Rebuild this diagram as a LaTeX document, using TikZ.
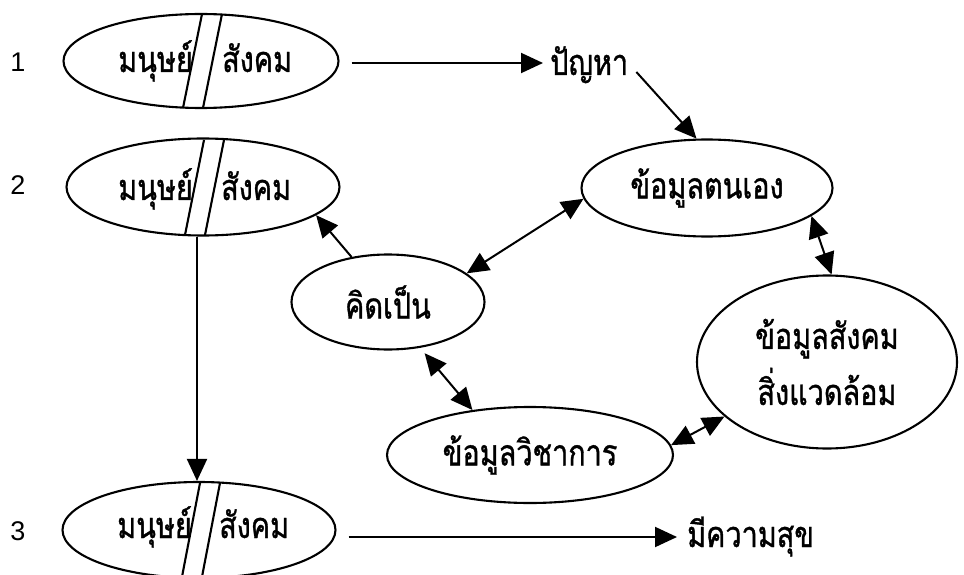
\documentclass[tikz,border=0pt]{standalone}
\usepackage{fontspec}
\setmainfont{Liberation Sans}
\newfontfamily\thai[Script=Thai,FakeStretch=0.8,FakeBold=1]{Loma}
\usetikzlibrary{shapes.geometric,arrows.meta,calc}
\begin{document}
\begin{tikzpicture}[x=1pt,y=-1pt,
  ell/.style={draw,ellipse,line width=2.1pt,inner sep=0pt},
  th/.style={font=\thai\fontsize{36}{56}\selectfont,inner sep=0pt},
  num/.style={font=\fontsize{27}{30}\selectfont,inner sep=0pt},
  arr/.style={line width=2pt,-{Triangle[length=22pt,width=20pt]}},
  barr/.style={line width=2pt,{Triangle[length=22pt,width=20pt]}-{Triangle[length=22pt,width=20pt]}},
  sl/.style={line width=2.1pt}]
\useasboundingbox[fill=white] (0,0) rectangle (964,575);
% row labels
\node[num] (n1) at (18,62) {1};
\node[num] (n2) at (18,185) {2};
\node[num] (n3) at (18,531) {3};
% man/society ellipses
\node[ell,minimum width=275pt,minimum height=94pt] (e1) at (201,61) {};
\node[ell,minimum width=273pt,minimum height=97pt] (e2) at (203,187) {};
\node[ell,minimum width=273pt,minimum height=96pt] (e3) at (199,530) {};
\foreach \e/\b in {e1/47,e2/48,e3/52}{
  \draw[sl] ($(\e.center)+(1,-47)$) -- ($(\e.center)+(-18,\b)$);
  \draw[sl] ($(\e.center)+(21,-47)$) -- ($(\e.center)+(2,\b)$);
}
\node[th,anchor=base east] (h1) at (193,72) {มนุษย์};
\node[th,anchor=base west] (s1) at (222,72) {สังคม};
\node[th,anchor=base east] (h2) at (193,200) {มนุษย์};
\node[th,anchor=base west] (s2) at (221,200) {สังคม};
\node[th,anchor=base east] (h3) at (192,538) {มนุษย์};
\node[th,anchor=base west] (s3) at (219,538) {สังคม};
% other nodes
\node[ell,th,minimum width=251pt,minimum height=97pt] (self) at (707,188) {ข้อมูลตนเอง};
\node[ell,th,minimum width=193pt,minimum height=95pt] (kp) at (388,302) {คิดเป็น};
\node[ell,th,minimum width=260pt,minimum height=173pt,align=center] (soc) at (827,362) {ข้อมูลสังคม\\สิ่งแวดล้อม};
\node[ell,th,minimum width=286pt,minimum height=96pt] (aca) at (530,455) {ข้อมูลวิชาการ};
\node[th,anchor=base west] (pb) at (550,75) {ปัญหา};
\node[th,anchor=base west] (hap) at (687,547) {มีความสุข};
% connectors
\draw[arr] ($(e1.east)+(12,2)$) -- ($(pb.base west)+(-7,-12)$);
\draw[arr] ($(pb.base east)+(8,-3)$) -- (self.102);
\draw[arr] ($(e2.south)+(-6,0)$) -- ($(e3.north)+(-2,0)$);
\draw[arr] (kp.129) -- (e2.-14);
\draw[barr] (kp.20) -- (self.185);
\draw[barr] (self.-15) -- (soc.87);
\draw[barr,shorten <=7pt] (kp.-55) -- (aca.142);
\draw[barr] (aca.4) -- (soc.208);
\draw[arr] ($(e3.east)+(12,7)$) -- ($(hap.base west)+(-10,-10)$);
\end{tikzpicture}
\end{document}
